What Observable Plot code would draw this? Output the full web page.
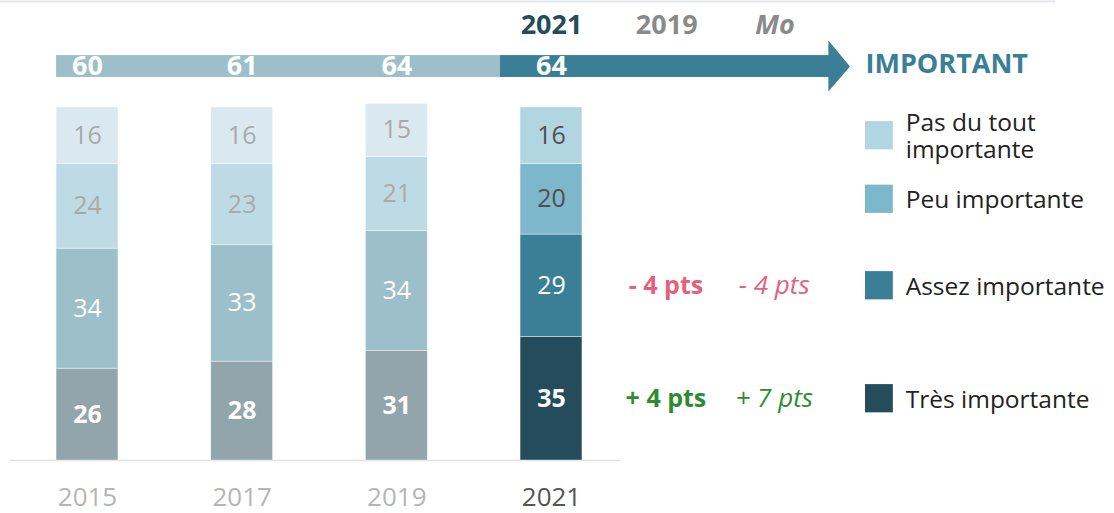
<!DOCTYPE html>
<html>
<head>
<meta charset="utf-8">
<script src="https://cdn.jsdelivr.net/npm/d3@7"></script>
<script src="https://cdn.jsdelivr.net/npm/@observablehq/plot@0.6"></script>
<style>
  html, body { margin: 0; padding: 0; background: #fff; }
  #chart svg { display: block; }
</style>
</head>
<body>
<div id="chart"></div>
<script>
// ---- data ----
const years = ["2015", "2017", "2019", "2021"];
const categories = ["Très importante", "Assez importante", "Peu importante", "Pas du tout importante"];
const legendLabels = ["Très importante", "Assez importante", "Peu importante", ["Pas du tout", "importante"]];
const tresImportante = [26, 28, 31, 35];
const assezImportante = [34, 33, 34, 29];
const peuImportante = [24, 23, 21, 20];
const pasDuToutImportante = [16, 16, 15, 16];
const importantTotal = [60, 61, 64, 64];
const headerLabels = ["2021", "2019", "Mo"];
const evolVs2019 = { "Assez importante": "- 4 pts", "Très importante": "+ 4 pts" };
const evolVsMo = { "Assez importante": "- 4 pts", "Très importante": "+ 7 pts" };
const bannerTitle = "IMPORTANT";

// ---- styles ----
const FONT = "Open Sans, sans-serif";
const oldFill = ["#91a5ab", "#9dbfca", "#bedbe5", "#d9e9ef"];
const newFill = ["#244c5a", "#3a7f96", "#7db7cc", "#b1d6e2"];
const oldText = ["#ffffff", "#ffffff", "#a9a9a9", "#a9a9a9"];
const newText = ["#ffffff", "#ffffff", "#505050", "#505050"];
const bold = [true, false, false, false];

const series = [tresImportante, assezImportante, peuImportante, pasDuToutImportante];
const last = years.length - 1;

// stacked rows
const rows = [];
years.forEach((yr, i) => {
  let acc = 0;
  categories.forEach((c, k) => {
    const v = series[k][i];
    rows.push({ year: yr, i, cat: c, k, value: v, y1: acc, y2: acc + v, mid: acc + v / 2 });
    acc += v;
  });
});
const rowsLast = rows.filter(d => d.i === last);

// ---- layout (slot units on x: one slot per year; y in percentage points) ----
const HALF = 0.2;                 // half bar width
const bannerY1 = 108.5, bannerY2 = 114.7;
const bannerMid = (bannerY1 + bannerY2) / 2;
const bannerSplit = 2.67, bannerEnd = 4.8, arrowTip = 4.93, arrowTop = 119, arrowBot = 104.5;
const headerY = 123.2;
const headerX = [3.0, 3.745, 4.445];
const titleX = 5.03;
const swatchX1 = 5.03, swatchX2 = 5.21, legendTextX = 5.29;
const annotX = [3.74, 4.44];
const pct = d3.format("d");
const evColor = s => (s.startsWith("-") ? "#e4607b" : "#2e8b32");

const chart = Plot.plot({
  width: 1114,
  height: 513,
  margin: 0,
  x: { domain: [-87 / 154.67, 1027 / 154.67], axis: null },
  y: { domain: [-15.01, 130.3], axis: null },
  style: { fontFamily: FONT, background: "#fff" },
  marks: [
    // top thin rule
    Plot.ruleY([130], { x1: -0.5625, x2: 6.26, stroke: "#e4e8ec", strokeWidth: 2 }),
    // baseline
    Plot.ruleY([0], { x1: -0.5, x2: 3.45, stroke: "#e2e2e2", strokeWidth: 1.5 }),
    // stacked bars
    Plot.rect(rows, {
      x1: d => d.i - HALF, x2: d => d.i + HALF, y1: "y1", y2: "y2",
      fill: d => (d.i === last ? newFill : oldFill)[d.k],
      stroke: "#ffffff", strokeOpacity: 0.5, strokeWidth: 0.8
    }),
    // segment labels
    Plot.text(rows.filter(d => bold[d.k]), {
      x: "i", y: "mid", text: d => pct(d.value),
      fill: "#fff", fontSize: 25, fontWeight: "bold"
    }),
    Plot.text(rows.filter(d => !bold[d.k]), {
      x: "i", y: "mid", text: d => pct(d.value),
      fill: d => (d.i === last ? newText : oldText)[d.k], fontSize: 25
    }),
    // banner
    Plot.rect([0], { x1: -HALF, x2: bannerSplit, y1: bannerY1, y2: bannerY2, fill: "#9dbfca" }),
    Plot.rect([0], { x1: bannerSplit, x2: bannerEnd, y1: bannerY1, y2: bannerY2, fill: "#3a7f96" }),
    Plot.line([[bannerEnd - 0.01, arrowTop], [arrowTip, bannerMid], [bannerEnd - 0.01, arrowBot]],
      { fill: "#3a7f96", stroke: "none" }),
    Plot.text(importantTotal, {
      x: (d, i) => i, y: bannerMid, text: d => pct(d),
      fill: "#fff", fontSize: 27, fontWeight: "bold"
    }),
    Plot.text([bannerTitle], {
      x: titleX, y: bannerMid + 0.5, text: d => d, textAnchor: "start",
      fill: "#3a7f96", fontSize: 27, fontWeight: "bold"
    }),
    // header columns
    Plot.text(headerLabels.slice(0, 1), {
      x: headerX[0], y: headerY, text: d => d, fill: "#244c5a", fontSize: 27, fontWeight: "bold"
    }),
    Plot.text(headerLabels.slice(1, 2), {
      x: headerX[1], y: headerY, text: d => d, fill: "#8a8a8a", fontSize: 27, fontWeight: "bold"
    }),
    Plot.text(headerLabels.slice(2, 3), {
      x: headerX[2], y: headerY, text: d => d, fill: "#8a8a8a", fontSize: 27,
      fontWeight: "bold", fontStyle: "italic"
    }),
    // evolution annotations
    Plot.text(rowsLast.filter(d => evolVs2019[d.cat]), {
      x: annotX[0], y: "mid", text: d => evolVs2019[d.cat],
      fill: d => evColor(evolVs2019[d.cat]), fontSize: 25, fontWeight: "bold"
    }),
    Plot.text(rowsLast.filter(d => evolVsMo[d.cat]), {
      x: annotX[1], y: "mid", text: d => evolVsMo[d.cat],
      fill: d => evColor(evolVsMo[d.cat]), fontSize: 26, fontStyle: "italic"
    }),
    // legend
    Plot.rect(rowsLast, {
      x1: swatchX1, x2: swatchX2, y1: d => d.mid - 4, y2: d => d.mid + 4,
      fill: d => newFill[d.k]
    }),
    Plot.text(rowsLast, {
      x: legendTextX, y: "mid", text: d => [].concat(legendLabels[d.k]).join("\n"),
      textAnchor: "start", fill: "#222", fontSize: 24.5, lineHeight: 1.12
    }),
    // x labels
    Plot.text(years, {
      x: (d, i) => i, y: -10.6, text: d => d,
      fill: (d, i) => (i === last ? "#555555" : "#b5b5b5"), fontSize: 26
    })
  ]
});
document.getElementById("chart").append(chart);
</script>
</body>
</html>
